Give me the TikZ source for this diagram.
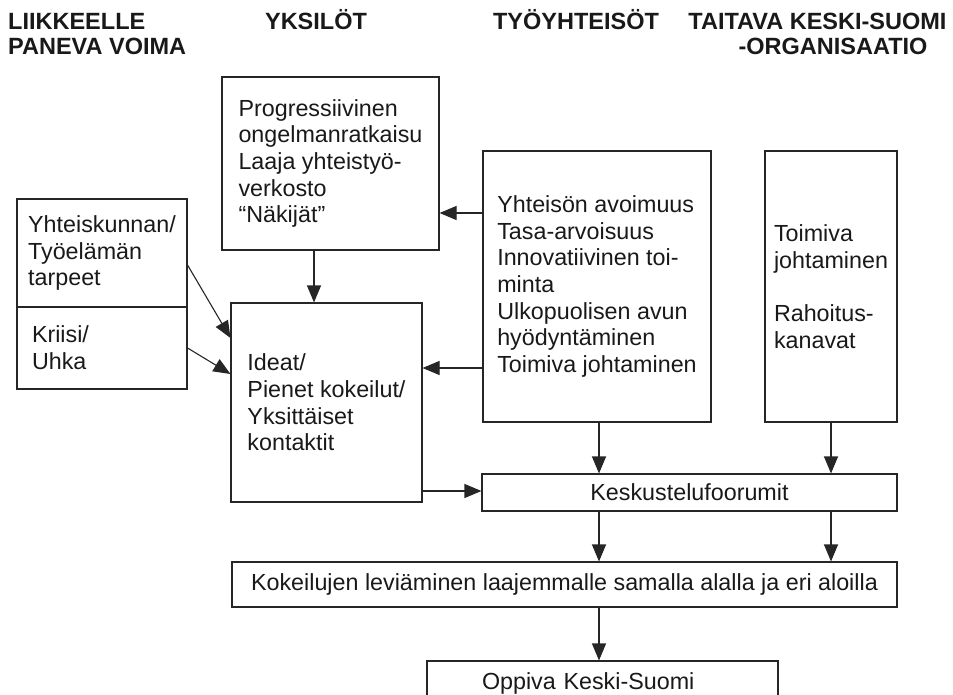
\documentclass[tikz,border=0pt]{standalone}
\usepackage{fontspec}
\setmainfont{Liberation Sans}
\usetikzlibrary{arrows.meta}
\newcommand{\boxfont}{\fontsize{23.3}{26.7}\selectfont}
\newcommand{\headfont}{\fontsize{23.5}{25}\selectfont\bfseries}

\begin{document}
\begin{tikzpicture}[x=1pt, y=-1pt,
	box/.style={draw=black!85, line width=1.1pt, inner sep=0pt, align=left, font=\boxfont, text=black!90},
	head/.style={font=\headfont, inner sep=0pt, text=black!90},
	arr/.style={-{Triangle[length=17pt, width=14pt]}, draw=black!85, line width=1.1pt}]
	\useasboundingbox (0,0) rectangle (953,695);
	\node[head, anchor=north west, align=left] (drive) at (8,13.3) {LIIKKEELLE\\PANEVA VOIMA};
	\node[head, anchor=base] (indiv) at (316,30) {YKSILÖT};
	\node[head, anchor=base] (work) at (576,30) {TYÖYHTEISÖT};
	\node[head, anchor=north, align=center] (region) at (817.5,13.3) {TAITAVA KESKI-SUOMI\\\hspace*{31pt}-ORGANISAATIO};

	\node[box, minimum width=170pt, minimum height=108pt] (need) at (102,253) {Yhteiskunnan/\\Työelämän\\tarpeet};
	\node[box, minimum width=170pt, minimum height=82pt, text width=140pt, inner xsep=15pt] (crisis) at (102,348) {Kriisi/\\Uhka};
	\node[box, minimum width=217pt, minimum height=173pt] (prog) at (330.5,163.5) {Progressiivinen\\ongelmanratkaisu\\Laaja yhteistyö-\\verkosto\\“Näkijät”};
	\node[box, minimum width=191pt, minimum height=199pt] (ideat) at (326.5,402.5) {Ideat/\\Pienet kokeilut/\\Yksittäiset\\kontaktit};
	\node[box, minimum width=228pt, minimum height=271pt] (tyo) at (597,286.5) {Yhteisön avoimuus\\Tasa-arvoisuus\\Innovatiivinen toi-\\minta\\Ulkopuolisen avun\\hyödyntäminen\\Toimiva johtaminen};
	\node[box, minimum width=132pt, minimum height=271pt] (org) at (831,286.5) {Toimiva\\johtaminen\\[26.7pt]Rahoitus-\\kanavat};
	\node[box, minimum width=415pt, minimum height=37pt, align=center] (forum) at (689.5,492.5) {Keskustelufoorumit};
	\node[box, minimum width=665pt, minimum height=45pt, align=center] (spread) at (564.5,584.5) {Kokeilujen leviäminen laajemmalle samalla alalla ja eri aloilla};
	\node[box, minimum width=351pt, minimum height=44pt, text width=241pt, inner xsep=55pt] (learn) at (602.5,683) {Oppiva Keski-Suomi};

	\draw[arr] (tyo.west |- 0,213) -- (prog.east |- 0,213);
	\draw[arr] (tyo.west |- 0,368) -- (ideat.east |- 0,368);
	\draw[arr] (prog.south -| 314,0) -- (ideat.north -| 314,0);
	\draw[arr] (need.east |- 0,265) -- (ideat.west |- 0,338);
	\draw[arr] (crisis.east |- 0,348) -- (ideat.west |- 0,374);
	\draw[arr] (ideat.east |- 0,491) -- (forum.west |- 0,491);
	\draw[arr] (tyo.south -| 599,0) -- (forum.north -| 599,0);
	\draw[arr] (org.south) -- (forum.north -| org.south);
	\draw[arr] (forum.south -| 599,0) -- (spread.north -| 599,0);
	\draw[arr] (forum.south -| org.south) -- (spread.north -| org.south);
	\draw[arr] (spread.south -| 599,0) -- (learn.north -| 599,0);
\end{tikzpicture}
\end{document}
